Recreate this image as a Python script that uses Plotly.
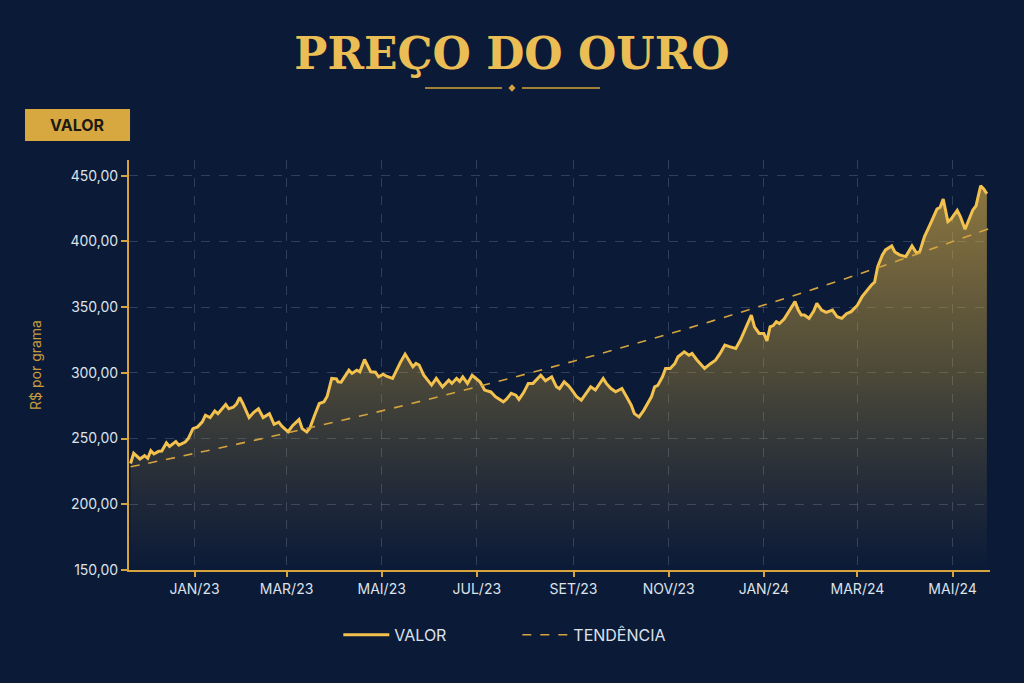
import plotly.graph_objects as go

# Preço do ouro (R$ por grama), leitura aproximada do gráfico
datas = [
    "2022-11-21", "2022-11-23", "2022-11-27", "2022-11-30",
    "2022-12-02", "2022-12-04", "2022-12-06", "2022-12-09", "2022-12-11", "2022-12-14",
    "2022-12-16", "2022-12-20", "2022-12-22", "2022-12-26", "2022-12-28", "2022-12-31",
    "2023-01-03", "2023-01-06", "2023-01-08", "2023-01-11", "2023-01-14", "2023-01-16",
    "2023-01-21", "2023-01-23", "2023-01-26", "2023-01-28", "2023-01-30",
    "2023-02-01", "2023-02-05", "2023-02-08", "2023-02-11", "2023-02-14", "2023-02-18",
    "2023-02-21", "2023-02-24", "2023-02-26",
    "2023-03-02", "2023-03-05", "2023-03-09", "2023-03-11", "2023-03-14", "2023-03-16",
    "2023-03-19", "2023-03-22", "2023-03-25", "2023-03-27", "2023-03-30",
    "2023-04-02", "2023-04-03", "2023-04-05", "2023-04-10", "2023-04-12", "2023-04-15",
    "2023-04-17", "2023-04-20", "2023-04-24", "2023-04-27", "2023-04-29",
    "2023-05-02", "2023-05-04", "2023-05-08", "2023-05-11", "2023-05-13", "2023-05-16",
    "2023-05-19", "2023-05-21", "2023-05-23", "2023-05-25", "2023-05-28", "2023-05-31",
    "2023-06-02", "2023-06-05", "2023-06-09", "2023-06-13", "2023-06-15", "2023-06-18",
    "2023-06-20", "2023-06-22", "2023-06-25", "2023-06-28",
    "2023-07-01", "2023-07-03", "2023-07-06", "2023-07-10", "2023-07-13", "2023-07-15",
    "2023-07-18", "2023-07-20", "2023-07-23", "2023-07-26", "2023-07-28", "2023-07-31",
    "2023-08-03", "2023-08-06", "2023-08-11", "2023-08-14", "2023-08-18", "2023-08-21",
    "2023-08-23", "2023-08-26", "2023-08-29", "2023-08-31",
    "2023-09-03", "2023-09-06", "2023-09-10", "2023-09-12", "2023-09-15", "2023-09-20",
    "2023-09-22", "2023-09-25", "2023-09-28",
    "2023-10-02", "2023-10-05", "2023-10-08", "2023-10-10", "2023-10-13", "2023-10-16",
    "2023-10-19", "2023-10-21", "2023-10-23", "2023-10-25", "2023-10-28", "2023-10-30",
    "2023-11-02", "2023-11-05", "2023-11-07", "2023-11-11", "2023-11-14", "2023-11-16",
    "2023-11-19", "2023-11-21", "2023-11-24", "2023-11-28",
    "2023-12-01", "2023-12-04", "2023-12-07", "2023-12-10", "2023-12-14", "2023-12-17",
    "2023-12-20", "2023-12-24", "2023-12-26", "2023-12-29",
    "2024-01-01", "2024-01-03", "2024-01-05", "2024-01-07", "2024-01-09", "2024-01-11",
    "2024-01-14", "2024-01-17", "2024-01-21", "2024-01-23", "2024-01-25", "2024-01-27",
    "2024-01-30",
    "2024-02-02", "2024-02-04", "2024-02-07", "2024-02-10", "2024-02-14", "2024-02-17",
    "2024-02-20", "2024-02-23", "2024-02-26",
    "2024-03-01", "2024-03-04", "2024-03-07", "2024-03-10", "2024-03-12", "2024-03-14",
    "2024-03-17", "2024-03-19", "2024-03-23", "2024-03-25", "2024-03-28",
    "2024-04-01", "2024-04-05", "2024-04-08", "2024-04-10", "2024-04-13", "2024-04-17",
    "2024-04-21", "2024-04-23", "2024-04-25", "2024-04-28", "2024-04-30",
    "2024-05-04", "2024-05-06", "2024-05-09", "2024-05-12", "2024-05-14", "2024-05-16",
    "2024-05-19", "2024-05-21", "2024-05-23",
]

valores = [
    231.0, 238.8, 234.5, 237.0,
    235.0, 240.8, 238.3, 240.3, 240.5, 246.7,
    244.0, 247.8, 245.0, 247.4, 250.0, 257.6,
    258.9, 262.7, 267.8, 266.0, 271.0, 269.0,
    276.0, 272.7, 274.0, 276.5, 281.3,
    276.7, 266.0, 270.0, 272.7, 266.0, 269.0,
    260.9, 262.5, 259.5,
    255.2, 260.0, 264.5, 257.6, 255.0, 258.0,
    267.8, 276.7, 278.0, 282.0, 295.8,
    295.5, 293.2, 293.0, 302.1, 299.6, 302.0,
    300.8, 310.2, 300.8, 300.5, 297.0,
    299.0, 297.5, 295.8, 303.4, 308.0, 314.3,
    308.4, 304.6, 307.2, 306.0, 298.2, 293.2,
    290.7, 295.8, 289.4, 294.4, 292.0, 295.8,
    293.5, 297.0, 292.0, 298.2,
    295.0, 293.2, 286.9, 285.5, 281.8, 280.0,
    278.0, 280.0, 284.4, 283.0, 279.8, 285.0,
    292.0, 292.0, 298.2, 294.0, 297.0, 289.4,
    288.0, 293.2, 290.0, 286.9,
    281.8, 279.2, 285.6, 289.4, 287.0, 295.8,
    292.0, 288.1, 285.6,
    288.1, 281.8, 275.4, 269.0, 266.5, 271.5,
    278.0, 282.0, 289.4, 290.5, 297.0, 303.4,
    303.4, 307.2, 312.3, 316.0, 313.5, 314.8,
    310.0, 307.2, 303.4, 307.2,
    309.7, 314.8, 321.2, 320.0, 318.6, 325.0,
    332.6, 344.0, 335.0, 330.0,
    330.0, 324.3, 335.0, 336.0, 338.9, 337.5,
    341.0, 347.0, 354.2, 348.0, 344.0, 344.0,
    341.5,
    347.0, 353.0, 347.8, 346.0, 347.8, 342.7,
    341.5, 345.0, 346.6,
    351.5, 358.0, 362.5, 366.9, 369.0, 380.9,
    389.8, 393.6, 396.6, 392.0, 389.8,
    388.5, 396.6, 391.0, 392.5, 403.7, 413.9,
    424.6, 426.0, 432.2, 415.2, 417.0,
    423.6, 419.0, 409.3, 419.0, 424.0, 427.0,
    442.4, 440.0, 436.3,
]

# linha de tendência (curva exponencial)
tendencia_datas = ["2022-11-21", "2023-01-01", "2023-03-01", "2023-05-01", "2023-07-01",
                   "2023-09-01", "2023-11-01", "2024-01-01", "2024-03-01", "2024-05-01",
                   "2024-05-25"]
tendencia_valores = [228.5, 238.7, 254.2, 271.1, 289.3, 308.9, 329.6, 351.6, 374.8, 399.9, 410.0]

meses = ["2023-01-01", "2023-03-01", "2023-05-01", "2023-07-01", "2023-09-01",
         "2023-11-01", "2024-01-01", "2024-03-01", "2024-05-01"]
meses_txt = ["JAN/23", "MAR/23", "MAI/23", "JUL/23", "SET/23",
             "NOV/23", "JAN/24", "MAR/24", "MAI/24"]

assert len(datas) == len(valores)

GOLD = "#f2c14e"
GOLD_DARK = "#d6a43e"
BG = "#0b1a37"
TEXT = "#dde2ea"
GRID = "rgba(130,150,180,0.30)"

fig = go.Figure()

# área com degradê (sem legenda)
fig.add_trace(go.Scatter(
    x=datas, y=valores,
    mode="lines",
    line=dict(width=0, color=GOLD),
    fill="tozeroy",
    fillgradient=dict(
        type="vertical",
        start=150, stop=450,
        colorscale=[[0, "rgba(170,140,70,0.0)"],
                    [0.5, "rgba(205,165,60,0.34)"],
                    [1, "rgba(225,180,70,0.62)"]],
    ),
    showlegend=False,
    hoverinfo="skip",
))

fig.add_trace(go.Scatter(
    x=datas, y=valores,
    mode="lines",
    name="VALOR",
    line=dict(color=GOLD, width=3),
))

fig.add_trace(go.Scatter(
    x=tendencia_datas, y=tendencia_valores,
    mode="lines",
    name="TENDÊNCIA",
    line=dict(color=GOLD_DARK, width=1.6, dash="dash", shape="spline"),
))

fig.update_layout(
    width=1024, height=683,
    paper_bgcolor=BG,
    plot_bgcolor=BG,
    margin=dict(l=129, r=34, t=160, b=113),
    font=dict(family="Inter, Roboto, sans-serif", color=TEXT, size=14),
    title=dict(
        text="PREÇO DO OURO",
        x=0.5, xanchor="center",
        y=1 - 54 / 683, yref="container", yanchor="middle",
        font=dict(family="DejaVu Serif", size=44, color="#eabd55", weight="bold"),
    ),
    separators=",.",
    showlegend=True,
    legend=dict(
        orientation="h",
        x=0.451, xanchor="center",
        y=-0.158, yanchor="middle",
        font=dict(size=16, color=TEXT),
        bgcolor="rgba(0,0,0,0)",
        itemwidth=46,
        entrywidth=118, entrywidthmode="pixels",
    ),
    hovermode="x unified",
)

fig.update_xaxes(
    type="date",
    range=["2022-11-20", "2024-05-25"],
    tickvals=meses, ticktext=meses_txt,
    showgrid=True, gridcolor=GRID, griddash="dash", gridwidth=1,
    showline=True, linecolor=GOLD_DARK, linewidth=2,
    ticks="outside", tickcolor=GOLD_DARK, ticklen=5, tickwidth=2,
    tickfont=dict(size=14, color=TEXT),
    zeroline=False,
)

fig.update_yaxes(
    range=[150, 462],
    tickvals=[150, 200, 250, 300, 350, 400, 450],
    tickformat=".2f",
    showgrid=True, gridcolor=GRID, griddash="dash", gridwidth=1,
    showline=True, linecolor=GOLD_DARK, linewidth=2,
    ticks="outside", tickcolor=GOLD_DARK, ticklen=6, tickwidth=2,
    tickfont=dict(size=14, color=TEXT),
    title=dict(text="R$ por grama", font=dict(size=14, color="#c79a3e"), standoff=26),
    zeroline=False,
)

# ornamento sob o título
fig.add_shape(type="line", xref="paper", yref="paper",
              x0=0.3438, x1=0.4332, y0=1.1756, y1=1.1756,
              line=dict(color=GOLD_DARK, width=1.5))
fig.add_shape(type="line", xref="paper", yref="paper",
              x0=0.4564, x1=0.5470, y0=1.1756, y1=1.1756,
              line=dict(color=GOLD_DARK, width=1.5))
fig.add_shape(type="path", xref="paper", yref="paper",
              path="M 0.4407,1.1756 L 0.4448,1.1846 L 0.4489,1.1756 L 0.4448,1.1666 Z",
              fillcolor=GOLD_DARK, line=dict(width=0))

# etiqueta VALOR
fig.add_shape(type="rect", xref="paper", yref="paper", layer="below",
              x0=-0.1208, x1=0.0012, y0=1.0463, y1=1.1244,
              fillcolor="#d7a840", line=dict(width=0))
fig.add_annotation(xref="paper", yref="paper", x=-0.0598, y=1.0854,
                   xanchor="center", yanchor="middle",
                   text="<b>VALOR</b>", showarrow=False,
                   font=dict(size=16, color="#1c1a14"))

fig.write_html("out.html",
               config={"displayModeBar": False},
               post_script="document.body.style.margin='0';document.body.style.background='#0b1a37';")
